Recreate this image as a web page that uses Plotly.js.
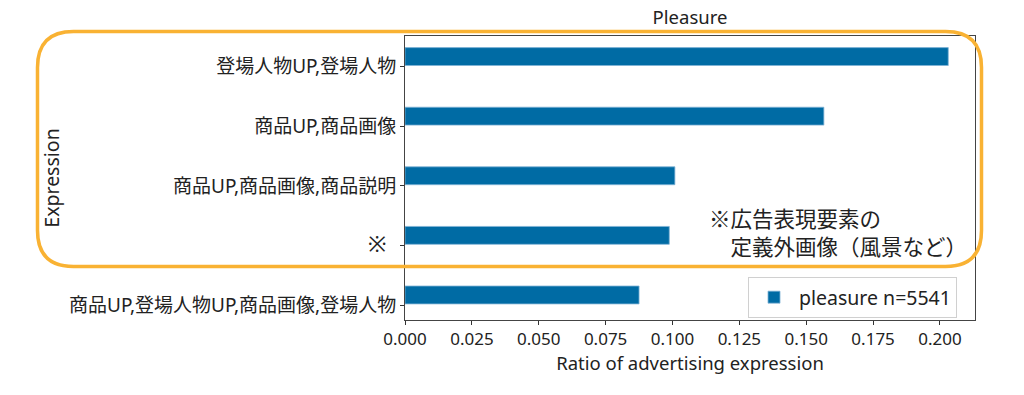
<!DOCTYPE html>
<html>
<head>
<meta charset="utf-8">
<script src="https://cdn.plot.ly/plotly-3.0.1.min.js"></script>
<style>html,body{margin:0;padding:0;background:#fff;}#chart{width:1024px;height:395px;}</style>
</head>
<body>
<div id="chart"></div>
<script>
// Data (top to bottom as shown in the chart)
const categories = [
  "登場人物UP,登場人物",
  "商品UP,商品画像",
  "商品UP,商品画像,商品説明",
  "※",
  "商品UP,登場人物UP,商品画像,登場人物"
];
const tickLabels = [
  "登場人物UP,登場人物",
  "商品UP,商品画像",
  "商品UP,商品画像,商品説明",
  "<span style=\"font-size:22px\">※</span>  ",
  "商品UP,登場人物UP,商品画像,登場人物"
];
const ratios = [0.2031, 0.1566, 0.1009, 0.0988, 0.0875];
const seriesName = "pleasure n=5541";
const xTickVals = [0, 0.025, 0.05, 0.075, 0.1, 0.125, 0.15, 0.175, 0.2];
const noteText = "※広告表現要素の<br>\u3000定義外画像（風景など）";

const FONT = "'Noto Sans', 'Noto Sans CJK JP', sans-serif";
const PL = 405, PR = 975, PT = 36, PB = 320;
const px = x => (x - PL) / (PR - PL);
const py = y => (PB - y) / (PB - PT);

// rounded rectangle highlight (pixel geometry converted to paper coords)
function roundRect(L, T, R, B, r) {
  const P = (x, y) => px(x).toFixed(5) + "," + py(y).toFixed(5);
  return "M" + P(L + r, T) + " L" + P(R - r, T) + " Q" + P(R, T) + " " + P(R, T + r) +
         " L" + P(R, B - r) + " Q" + P(R, B) + " " + P(R - r, B) +
         " L" + P(L + r, B) + " Q" + P(L, B) + " " + P(L, B - r) +
         " L" + P(L, T + r) + " Q" + P(L, T) + " " + P(L + r, T) + " Z";
}

const trace = {
  type: "bar",
  orientation: "h",
  y: categories,
  x: ratios,
  name: seriesName,
  width: 0.30,
  offset: -0.32,
  marker: { color: "#006BA4", line: { color: "#7fb3d5", width: 0.8 } },
  showlegend: true,
  hoverinfo: "x+y"
};

const layout = {
  width: 1024,
  height: 395,
  margin: { l: PL, r: 1024 - PR, t: PT, b: 395 - PB, pad: 0 },
  paper_bgcolor: "#ffffff",
  plot_bgcolor: "#ffffff",
  font: { family: FONT, size: 17, color: "#222" },
  title: {
    text: "Pleasure",
    font: { family: FONT, size: 18.5, color: "#222" },
    xref: "paper", x: 0.5, xanchor: "center",
    yref: "container", y: (395 - 18) / 395, yanchor: "middle"
  },
  xaxis: {
    range: [0, 0.2131],
    tickvals: xTickVals,
    tickformat: ".3f",
    ticks: "outside", ticklen: 4, tickcolor: "#333", tickwidth: 1,
    showgrid: false, zeroline: false,
    showline: true, linecolor: "#444", linewidth: 1, mirror: true,
    tickfont: { family: FONT, size: 17, color: "#222" },
    title: { text: "Ratio of advertising expression", standoff: 3,
             font: { family: FONT, size: 18.5, color: "#222" } }
  },
  yaxis: {
    type: "category",
    categoryorder: "array",
    categoryarray: categories,
    range: [4.25, -0.515],
    tickvals: categories,
    ticktext: tickLabels,
    ticks: "outside", ticklen: 4, tickcolor: "#333", tickwidth: 1,
    showgrid: false, zeroline: false,
    showline: true, linecolor: "#444", linewidth: 1, mirror: true,
    tickfont: { family: FONT, size: 19, color: "#222" },
    title: { text: "Expression", standoff: 4,
             font: { family: FONT, size: 19.5, color: "#222" } }
  },
  showlegend: true,
  legend: {
    x: px(748), y: py(277), xanchor: "left", yanchor: "top",
    bgcolor: "rgba(255,255,255,0.9)",
    bordercolor: "#d0d0d0", borderwidth: 1,
    font: { family: FONT, size: 19.5, color: "#222" },
    itemwidth: 40
  },
  shapes: [
    {
      type: "path", xref: "paper", yref: "paper",
      path: roundRect(37.5, 31.5, 981.5, 266.5, 36),
      line: { color: "#F9B233", width: 3.5 },
      fillcolor: "rgba(0,0,0,0)",
      layer: "above"
    }
  ],
  annotations: [
    {
      text: noteText, xref: "paper", yref: "paper",
      x: px(707), y: py(231), xanchor: "left", yanchor: "middle", align: "left",
      showarrow: false, font: { family: "'Noto Sans CJK JP', sans-serif", size: 21.5, color: "#222" }
    }
  ]
};

Plotly.newPlot("chart", [trace], layout, { displayModeBar: false, staticPlot: true });
</script>
</body>
</html>
